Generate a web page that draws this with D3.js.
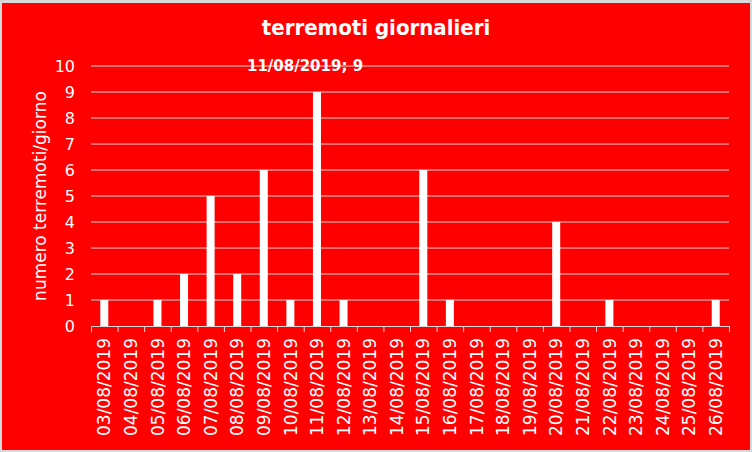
<!DOCTYPE html>
<html>
<head>
<meta charset="utf-8">
<script src="https://cdn.jsdelivr.net/npm/d3@7"></script>
<style>
  body { margin: 0; background: #d9d9d9; }
  svg { display: block; }
</style>
</head>
<body>
<script>
const W = 752, H = 452;
const margin = { left: 91, right: 23, top: 66, bottom: 126 };
const width = W - margin.left - margin.right;
const height = H - margin.top - margin.bottom;

const days = ['03/08/2019', '04/08/2019', '05/08/2019', '06/08/2019', '07/08/2019', '08/08/2019',
  '09/08/2019', '10/08/2019', '11/08/2019', '12/08/2019', '13/08/2019', '14/08/2019',
  '15/08/2019', '16/08/2019', '17/08/2019', '18/08/2019', '19/08/2019', '20/08/2019',
  '21/08/2019', '22/08/2019', '23/08/2019', '24/08/2019', '25/08/2019', '26/08/2019'];
const counts = [1, 0, 1, 2, 5, 2, 6, 1, 9, 1, 0, 0, 6, 1, 0, 0, 0, 4, 0, 1, 0, 0, 0, 1];
const yTicks = [0, 1, 2, 3, 4, 5, 6, 7, 8, 9, 10];

const svg = d3.select('body').append('svg')
    .attr('width', W)
    .attr('height', H);

// chart background
svg.append('rect')
    .attr('x', 2).attr('y', 3)
    .attr('width', W - 4).attr('height', H - 5)
    .attr('fill', '#ff0000');

const xScale = d3.scaleBand().domain(days).range([0, width]);
const yScale = d3.scaleLinear().domain([0, 10]).range([height, 0]);

const g = svg.append('g').attr('transform', `translate(${margin.left},${margin.top})`);

// gridlines
g.append('g').selectAll('line')
    .data(yTicks.filter(d => d > 0))
    .enter().append('line')
    .attr('x1', 0).attr('x2', width)
    .attr('y1', d => yScale(d)).attr('y2', d => yScale(d))
    .attr('stroke', '#d9d9d9');

// y tick labels
g.append('g').selectAll('text')
    .data(yTicks)
    .enter().append('text')
    .attr('x', -16)
    .attr('y', d => yScale(d))
    .attr('dy', '0.36em')
    .attr('text-anchor', 'end')
    .attr('fill', '#fff')
    .style('font', '16px "DejaVu Sans", Verdana, sans-serif')
    .text(d => d);

// bars
const barW = 8;
g.append('g').selectAll('rect')
    .data(counts)
    .enter().append('rect')
    .attr('x', (d, i) => xScale(days[i]) + xScale.bandwidth() / 2 - barW / 2)
    .attr('y', d => yScale(d))
    .attr('width', barW)
    .attr('height', d => height - yScale(d))
    .attr('fill', '#fff');

// x axis
const xAxis = g.append('g').attr('transform', `translate(0,${height})`);
xAxis.append('line')
    .attr('x1', 0).attr('x2', width)
    .attr('y1', 0.5).attr('y2', 0.5)
    .attr('stroke', '#d9d9d9');
xAxis.selectAll('.tk')
    .data(d3.range(days.length + 1))
    .enter().append('line')
    .attr('class', 'tk')
    .attr('x1', i => i * xScale.step() + 0.5)
    .attr('x2', i => i * xScale.step() + 0.5)
    .attr('y1', 0).attr('y2', 6)
    .attr('stroke', '#d9d9d9');
xAxis.selectAll('text')
    .data(days)
    .enter().append('text')
    .attr('transform', d => `translate(${xScale(d) + xScale.bandwidth() / 2},12) rotate(-90)`)
    .attr('dy', '0.36em')
    .attr('text-anchor', 'end')
    .attr('fill', '#fff')
    .style('font', '17px "DejaVu Sans", Verdana, sans-serif')
    .text(d => d);

// y axis title
svg.append('text')
    .attr('transform', `translate(40,${margin.top + height / 2}) rotate(-90)`)
    .attr('dy', '0.36em')
    .attr('text-anchor', 'middle')
    .attr('fill', '#fff')
    .style('font', '17px "DejaVu Sans", Verdana, sans-serif')
    .text('numero terremoti/giorno');

// title
svg.append('text')
    .attr('x', 376)
    .attr('y', 35)
    .attr('text-anchor', 'middle')
    .attr('fill', '#fff')
    .style('font', 'bold 22px "DejaVu Sans Condensed", "DejaVu Sans", sans-serif')
    .text('terremoti giornalieri');

// data label for the peak
const peak = counts.indexOf(d3.max(counts));
g.append('text')
    .attr('x', xScale(days[peak]) + xScale.bandwidth() / 2 - 70)
    .attr('y', yScale(10) + 5)
    .attr('fill', '#fff')
    .style('font', 'bold 15px "DejaVu Sans", Verdana, sans-serif')
    .text(`${days[peak]}; ${counts[peak]}`);
</script>
</body>
</html>
